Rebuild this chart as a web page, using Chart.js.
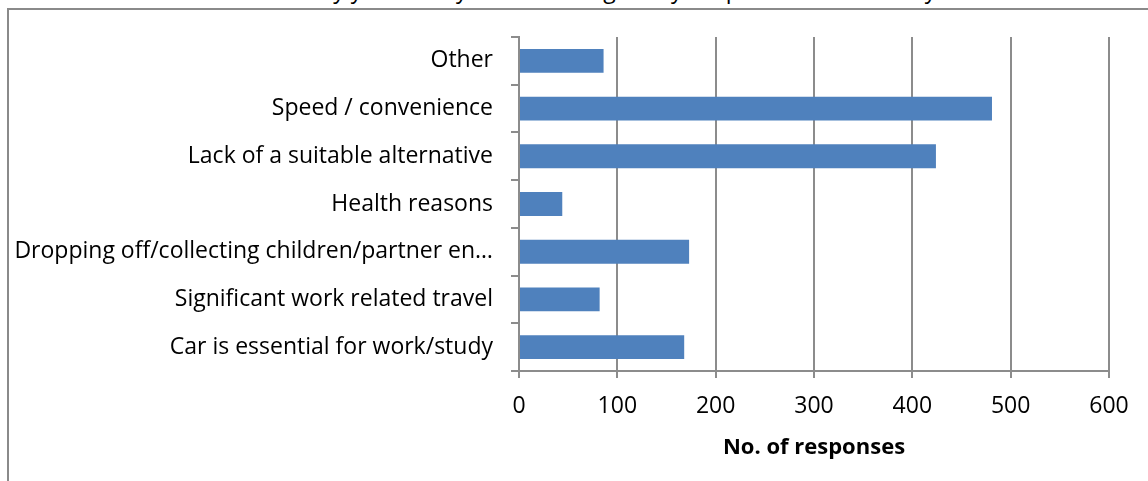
<!DOCTYPE html>
<html>
<head>
<meta charset="utf-8">
<script src="https://cdn.jsdelivr.net/npm/chart.js@4/dist/chart.umd.min.js"></script>
<style>
  html, body { margin: 0; padding: 0; background: #fff; overflow: hidden; }
  body { width: 1148px; height: 481px; position: relative; }
  #frame { position: absolute; left: 7px; top: 8px; width: 1160px; height: 500px;
           border: 1px solid #8a8a8a; border-width: 2px 0 0 2px; box-sizing: border-box; }
  #title { position: absolute; left: 0; width: 1148px; top: -27px; text-align: center;
           font: 23px "Open Sans", sans-serif; color: #000; white-space: nowrap; }
  #wrap { position: absolute; left: 0; top: 0; width: 1148px; height: 481px; }
</style>
</head>
<body>
<div id="frame"></div>
<div id="title">Reasons why you mainly use a car to get to your place of work/study.</div>
<div id="wrap"><canvas id="chart"></canvas></div>
<script>
const categories = [
    'Other',
    'Speed / convenience',
    'Lack of a suitable alternative',
    'Health reasons',
    'Dropping off/collecting children/partner en\u2026',
    'Significant work related travel',
    'Car is essential for work/study'
];
const responses = [86, 481, 424, 44, 173, 82, 168];
const xTicks = [0, 100, 200, 300, 400, 500, 600];

const chart = document.getElementById('chart');
const labelFont = { family: 'Open Sans', size: 23 };

new Chart(chart, {
    type: 'bar',
    data: {
        labels: categories,
        datasets: [{
            label: 'No. of responses',
            data: responses,
            backgroundColor: '#4F81BD',
            borderWidth: 0,
            barPercentage: 0.5,
            categoryPercentage: 1
        }]
    },
    options: {
        indexAxis: 'y',
        responsive: true,
        maintainAspectRatio: false,
        animation: false,
        layout: { padding: { left: 0, right: 39, top: 37, bottom: 0 } },
        plugins: {
            legend: { display: false },
            tooltip: { enabled: false }
        },
        scales: {
            x: {
                min: 0,
                max: 600,
                afterBuildTicks: (scale) => {
                    scale.ticks = xTicks.map(v => ({ value: v }));
                },
                afterFit: (scale) => { scale.height = 110; },
                grid: {
                    color: '#8c8c8c',
                    lineWidth: 2,
                    drawTicks: true,
                    tickLength: 7
                },
                border: { color: '#8c8c8c', width: 2 },
                ticks: {
                    color: '#000',
                    font: labelFont,
                    padding: 15
                },
                title: {
                    display: true,
                    text: 'No. of responses',
                    color: '#000',
                    font: { family: 'Open Sans', size: 22, weight: 'bold' },
                    padding: { top: 0, bottom: 20 }
                }
            },
            y: {
                afterFit: (scale) => { scale.width = 519; },
                grid: {
                    offset: true,
                    drawOnChartArea: false,
                    drawTicks: true,
                    tickLength: 8,
                    color: '#8c8c8c',
                    lineWidth: 2
                },
                border: { color: '#8c8c8c', width: 2 },
                ticks: {
                    color: '#000',
                    font: labelFont,
                    padding: 18,
                    autoSkip: false
                }
            }
        }
    }
});
</script>
</body>
</html>
